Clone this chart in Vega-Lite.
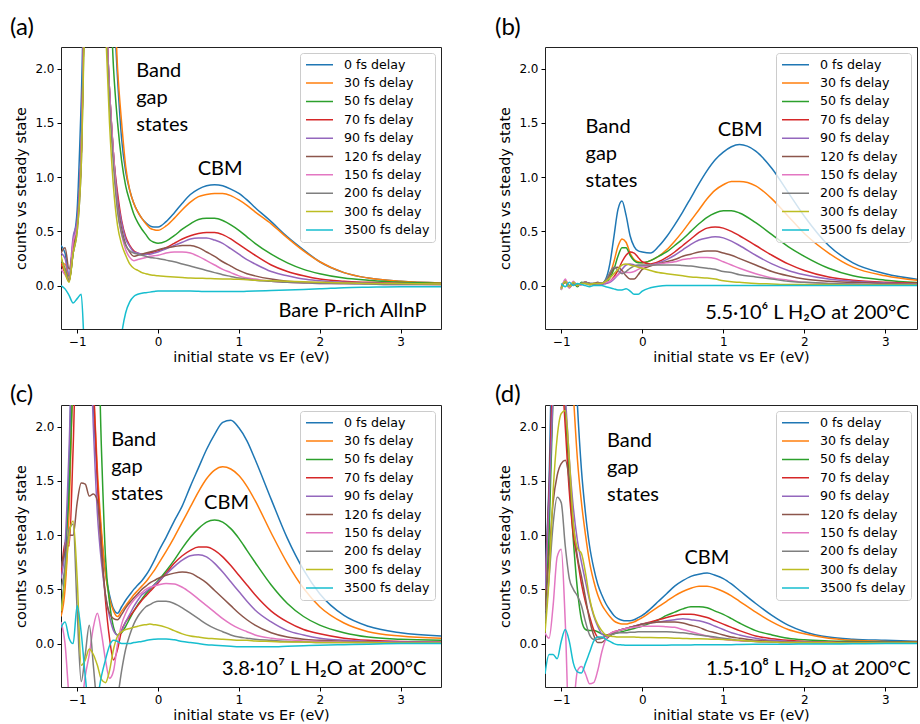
{
"$schema":"https://vega.github.io/schema/vega-lite/v6.json",
"padding":{"left":9,"top":15,"right":0,"bottom":0},
"config":{"font":"DejaVu Sans","view":{"stroke":"#222","strokeWidth":1},
"axis":{"labelFont":"DejaVu Sans","labelFontSize":12,"labelColor":"black","titleFont":"DejaVu Sans","titleFontSize":14.4,"titleFontWeight":"normal","titleColor":"black","tickColor":"black","tickSize":4,"domain":false,"grid":false,"labelPadding":3},
"axisX":{"titlePadding":3},"axisY":{"titlePadding":6},
"legend":{"orient":"top-right","offset":6,"title":null,"fillColor":"rgba(255,255,255,0.8)","strokeColor":"#cccccc","cornerRadius":3,"padding":5,"rowPadding":4.35,"labelFont":"DejaVu Sans","labelFontSize":12.6,"labelColor":"black","symbolType":"stroke","symbolSize":729,"clipHeight":13.5,"symbolStrokeWidth":1.5,"labelOffset":10},
"title":{"font":"Lato","fontSize":24,"fontWeight":"normal","color":"black","anchor":"start","frame":"group","baseline":"alphabetic"},
"text":{"font":"Lato","fontSize":20,"color":"black"}},
"datasets":{
"a":[
{"x":-1.2,"0":0.37,"30":0.2,"50":0.25,"70":0.2,"90":0.3,"120":0.3,"150":0.15,"200":0.25,"300":0.28,"3500":0},
{"x":-1.15,"0":0.3,"30":0.2,"50":0.15,"70":0.12,"90":0.25,"120":0.35,"150":0.1,"200":0.15,"300":0.12,"3500":-0.03},
{"x":-1.1,"0":0.08,"30":0.05,"50":0.04,"70":0.04,"90":0.1,"120":0.15,"150":0.05,"200":0.05,"300":0.03,"3500":-0.09},
{"x":-1.05,"0":0.4,"30":0.3,"50":0.3,"70":0.35,"90":0.45,"120":0.35,"150":0.4,"200":0.3,"300":0.3,"3500":-0.16},
{"x":-1.0,"0":0.7,"30":0.55,"50":0.55,"70":0.55,"90":0.6,"120":0.55,"150":0.55,"200":0.5,"300":0.5,"3500":-0.12},
{"x":-0.95,"0":1.7,"30":1.2,"50":1.2,"70":1.2,"90":1.3,"120":1.2,"150":1.2,"200":1.1,"300":1.1,"3500":-0.08},
{"x":-0.9,"0":3,"30":2.8,"50":2.8,"70":2.8,"90":2.8,"120":2.8,"150":2.8,"200":2.7,"300":2.6,"3500":-0.7},
{"x":-0.85,"0":3,"30":3,"50":3,"70":3,"90":3,"120":3,"150":3,"200":3,"300":3,"3500":-0.8},
{"x":-0.8,"0":3,"30":3,"50":3,"70":3,"90":3,"120":3,"150":3,"200":3,"300":3,"3500":-0.8},
{"x":-0.75,"0":3,"30":3,"50":3,"70":3,"90":3,"120":3,"150":3,"200":3,"300":3,"3500":-0.8},
{"x":-0.7,"0":3,"30":3,"50":3,"70":3,"90":3,"120":3,"150":3,"200":3,"300":3,"3500":-0.8},
{"x":-0.65,"0":3,"30":3,"50":3,"70":2.6,"90":2.6,"120":2.6,"150":2.6,"200":2.5,"300":2.4,"3500":-0.8},
{"x":-0.6,"0":3,"30":3,"50":2.8,"70":1.8,"90":1.8,"120":1.8,"150":1.8,"200":1.7,"300":1.5,"3500":-0.8},
{"x":-0.55,"0":2.6,"30":2.8,"50":2.0,"70":1.2,"90":1.2,"120":1.2,"150":1.2,"200":1.1,"300":0.9,"3500":-0.8},
{"x":-0.5,"0":1.9,"30":2.0,"50":1.5,"70":0.85,"90":0.8,"120":0.75,"150":0.7,"200":0.68,"300":0.55,"3500":-0.8},
{"x":-0.45,"0":1.35,"30":1.5,"50":1.15,"70":0.6,"90":0.58,"120":0.52,"150":0.47,"200":0.48,"300":0.38,"3500":-0.45},
{"x":-0.4,"0":1.05,"30":1.1,"50":0.92,"70":0.45,"90":0.43,"120":0.38,"150":0.33,"200":0.37,"300":0.28,"3500":-0.25},
{"x":-0.35,"0":0.88,"30":0.88,"50":0.78,"70":0.37,"90":0.36,"120":0.31,"150":0.26,"200":0.32,"300":0.2,"3500":-0.15},
{"x":-0.3,"0":0.76,"30":0.76,"50":0.66,"70":0.32,"90":0.31,"120":0.27,"150":0.23,"200":0.3,"300":0.16,"3500":-0.1},
{"x":-0.25,"0":0.68,"30":0.68,"50":0.58,"70":0.3,"90":0.3,"120":0.28,"150":0.24,"200":0.29,"300":0.14,"3500":-0.08},
{"x":-0.2,"0":0.62,"30":0.62,"50":0.52,"70":0.29,"90":0.29,"120":0.29,"150":0.25,"200":0.28,"300":0.12,"3500":-0.07},
{"x":-0.15,"0":0.58,"30":0.57,"50":0.47,"70":0.29,"90":0.29,"120":0.3,"150":0.26,"200":0.27,"300":0.11,"3500":-0.065},
{"x":-0.1,"0":0.55,"30":0.53,"50":0.42,"70":0.3,"90":0.29,"120":0.31,"150":0.27,"200":0.26,"300":0.1,"3500":-0.06},
{"x":-0.05,"0":0.54,"30":0.515,"50":0.4,"70":0.31,"90":0.3,"120":0.32,"150":0.275,"200":0.255,"300":0.095,"3500":-0.055},
{"x":0,"0":0.54,"30":0.51,"50":0.39,"70":0.32,"90":0.31,"120":0.33,"150":0.28,"200":0.25,"300":0.09,"3500":-0.05},
{"x":0.1,"0":0.59,"30":0.55,"50":0.41,"70":0.35,"90":0.34,"120":0.35,"150":0.3,"200":0.235,"300":0.085,"3500":-0.05},
{"x":0.2,"0":0.67,"30":0.62,"50":0.46,"70":0.39,"90":0.37,"120":0.36,"150":0.31,"200":0.22,"300":0.08,"3500":-0.05},
{"x":0.3,"0":0.76,"30":0.7,"50":0.52,"70":0.43,"90":0.4,"120":0.37,"150":0.31,"200":0.2,"300":0.075,"3500":-0.05},
{"x":0.4,"0":0.84,"30":0.77,"50":0.57,"70":0.46,"90":0.43,"120":0.37,"150":0.3,"200":0.18,"300":0.07,"3500":-0.05},
{"x":0.5,"0":0.89,"30":0.82,"50":0.61,"70":0.48,"90":0.44,"120":0.35,"150":0.27,"200":0.16,"300":0.068,"3500":-0.052},
{"x":0.6,"0":0.92,"30":0.84,"50":0.62,"70":0.49,"90":0.44,"120":0.31,"150":0.23,"200":0.14,"300":0.066,"3500":-0.055},
{"x":0.7,"0":0.93,"30":0.85,"50":0.62,"70":0.49,"90":0.42,"120":0.27,"150":0.19,"200":0.12,"300":0.064,"3500":-0.055},
{"x":0.8,"0":0.92,"30":0.85,"50":0.6,"70":0.47,"90":0.39,"120":0.22,"150":0.15,"200":0.1,"300":0.062,"3500":-0.055},
{"x":0.9,"0":0.89,"30":0.83,"50":0.56,"70":0.43,"90":0.34,"120":0.18,"150":0.12,"200":0.085,"300":0.06,"3500":-0.055},
{"x":1.0,"0":0.85,"30":0.79,"50":0.51,"70":0.38,"90":0.29,"120":0.14,"150":0.09,"200":0.07,"300":0.058,"3500":-0.055},
{"x":1.1,"0":0.79,"30":0.74,"50":0.45,"70":0.33,"90":0.24,"120":0.11,"150":0.07,"200":0.06,"300":0.055,"3500":-0.052},
{"x":1.2,"0":0.72,"30":0.68,"50":0.39,"70":0.28,"90":0.2,"120":0.09,"150":0.06,"200":0.05,"300":0.05,"3500":-0.05},
{"x":1.4,"0":0.59,"30":0.57,"50":0.29,"70":0.19,"90":0.13,"120":0.06,"150":0.04,"200":0.04,"300":0.045,"3500":-0.045},
{"x":1.6,"0":0.45,"30":0.44,"50":0.21,"70":0.13,"90":0.09,"120":0.04,"150":0.03,"200":0.03,"300":0.04,"3500":-0.04},
{"x":1.8,"0":0.33,"30":0.32,"50":0.15,"70":0.09,"90":0.06,"120":0.03,"150":0.025,"200":0.025,"300":0.035,"3500":-0.035},
{"x":2.0,"0":0.22,"30":0.22,"50":0.11,"70":0.06,"90":0.045,"120":0.025,"150":0.02,"200":0.02,"300":0.03,"3500":-0.03},
{"x":2.3,"0":0.12,"30":0.12,"50":0.07,"70":0.04,"90":0.03,"120":0.02,"150":0.02,"200":0.02,"300":0.025,"3500":-0.02},
{"x":2.6,"0":0.07,"30":0.07,"50":0.05,"70":0.03,"90":0.025,"120":0.02,"150":0.015,"200":0.015,"300":0.02,"3500":-0.015},
{"x":3.0,"0":0.04,"30":0.04,"50":0.03,"70":0.02,"90":0.02,"120":0.015,"150":0.01,"200":0.01,"300":0.02,"3500":-0.01},
{"x":3.5,"0":0.025,"30":0.025,"50":0.02,"70":0.015,"90":0.015,"120":0.01,"150":0.01,"200":0.01,"300":0.015,"3500":-0.01}
],
"b":[
{"x":-1.0,"0":-0.03,"30":-0.02,"50":-0.04,"70":-0.02,"90":-0.03,"120":-0.01,"150":-0.04,"200":-0.02,"300":-0.03,"3500":0.02},
{"x":-0.95,"0":0.04,"30":0.03,"50":0.05,"70":0.04,"90":0.05,"120":0.03,"150":0.06,"200":0.03,"300":0.04,"3500":-0.01},
{"x":-0.9,"0":-0.01,"30":-0.02,"50":-0.01,"70":0,"90":-0.02,"120":-0.01,"150":-0.02,"200":0,"300":-0.01,"3500":0.03},
{"x":-0.85,"0":0.03,"30":0.02,"50":0.03,"70":0.02,"90":0.03,"120":0.02,"150":0.04,"200":0.02,"300":0.03,"3500":0},
{"x":-0.8,"0":0,"30":0.01,"50":-0.01,"70":0,"90":0.01,"120":0,"150":0,"200":0.01,"300":0,"3500":0.02},
{"x":-0.75,"0":0.02,"30":0.02,"50":0.03,"70":0.01,"90":0.02,"120":0.02,"150":0.01,"200":0.02,"300":0.02,"3500":0.01},
{"x":-0.7,"0":0.03,"30":0.03,"50":0.02,"70":0.03,"90":0.02,"120":0.03,"150":0.03,"200":0.03,"300":0.02,"3500":0},
{"x":-0.65,"0":0.02,"30":0.01,"50":0.01,"70":0.02,"90":0.01,"120":0.02,"150":0.01,"200":0.02,"300":0.01,"3500":-0.01},
{"x":-0.6,"0":0.02,"30":0.02,"50":0.01,"70":0.01,"90":0.02,"120":0.02,"150":0.01,"200":0.01,"300":0.02,"3500":0},
{"x":-0.55,"0":0.02,"30":0.02,"50":0.02,"70":0.02,"90":0.01,"120":0.03,"150":0.02,"200":0.02,"300":0.02,"3500":0},
{"x":-0.5,"0":0.02,"30":0.02,"50":0.02,"70":0.02,"90":0.01,"120":0.02,"150":0.02,"200":0.02,"300":0.02,"3500":0},
{"x":-0.45,"0":0.06,"30":0.04,"50":0.03,"70":0.02,"90":0.02,"120":0.05,"150":0.03,"200":0.05,"300":0.04,"3500":-0.01},
{"x":-0.4,"0":0.2,"30":0.1,"50":0.07,"70":0.04,"90":0.03,"120":0.1,"150":0.04,"200":0.12,"300":0.07,"3500":-0.02},
{"x":-0.35,"0":0.45,"30":0.22,"50":0.15,"70":0.08,"90":0.06,"120":0.16,"150":0.07,"200":0.17,"300":0.11,"3500":-0.03},
{"x":-0.3,"0":0.7,"30":0.36,"50":0.27,"70":0.14,"90":0.1,"120":0.17,"150":0.1,"200":0.14,"300":0.15,"3500":-0.04},
{"x":-0.25,"0":0.78,"30":0.43,"50":0.35,"70":0.22,"90":0.15,"120":0.14,"150":0.12,"200":0.11,"300":0.19,"3500":-0.04},
{"x":-0.2,"0":0.65,"30":0.4,"50":0.35,"70":0.28,"90":0.19,"120":0.09,"150":0.12,"200":0.13,"300":0.2,"3500":-0.03},
{"x":-0.15,"0":0.46,"30":0.3,"50":0.28,"70":0.31,"90":0.2,"120":0.06,"150":0.12,"200":0.16,"300":0.19,"3500":-0.05},
{"x":-0.1,"0":0.36,"30":0.24,"50":0.23,"70":0.3,"90":0.19,"120":0.06,"150":0.13,"200":0.18,"300":0.18,"3500":-0.08},
{"x":-0.05,"0":0.32,"30":0.22,"50":0.21,"70":0.26,"90":0.18,"120":0.1,"150":0.15,"200":0.19,"300":0.17,"3500":-0.08},
{"x":0,"0":0.31,"30":0.21,"50":0.21,"70":0.22,"90":0.18,"120":0.15,"150":0.17,"200":0.19,"300":0.16,"3500":-0.05},
{"x":0.1,"0":0.3,"30":0.23,"50":0.23,"70":0.2,"90":0.19,"120":0.18,"150":0.19,"200":0.19,"300":0.14,"3500":-0.02},
{"x":0.2,"0":0.36,"30":0.27,"50":0.27,"70":0.22,"90":0.21,"120":0.2,"150":0.2,"200":0.19,"300":0.12,"3500":-0.005},
{"x":0.3,"0":0.45,"30":0.33,"50":0.31,"70":0.26,"90":0.24,"120":0.22,"150":0.21,"200":0.19,"300":0.11,"3500":0},
{"x":0.4,"0":0.56,"30":0.41,"50":0.37,"70":0.31,"90":0.28,"120":0.24,"150":0.22,"200":0.19,"300":0.1,"3500":0},
{"x":0.5,"0":0.68,"30":0.5,"50":0.43,"70":0.37,"90":0.33,"120":0.27,"150":0.24,"200":0.185,"300":0.09,"3500":0},
{"x":0.6,"0":0.81,"30":0.6,"50":0.5,"70":0.43,"90":0.38,"120":0.29,"150":0.25,"200":0.18,"300":0.08,"3500":0},
{"x":0.7,"0":0.94,"30":0.7,"50":0.57,"70":0.49,"90":0.42,"120":0.31,"150":0.26,"200":0.17,"300":0.075,"3500":0},
{"x":0.8,"0":1.06,"30":0.8,"50":0.63,"70":0.53,"90":0.44,"120":0.32,"150":0.26,"200":0.16,"300":0.07,"3500":0},
{"x":0.9,"0":1.16,"30":0.88,"50":0.67,"70":0.54,"90":0.45,"120":0.32,"150":0.25,"200":0.15,"300":0.06,"3500":0},
{"x":1.0,"0":1.23,"30":0.93,"50":0.69,"70":0.53,"90":0.44,"120":0.3,"150":0.22,"200":0.13,"300":0.045,"3500":0},
{"x":1.1,"0":1.28,"30":0.96,"50":0.69,"70":0.5,"90":0.41,"120":0.28,"150":0.19,"200":0.12,"300":0.035,"3500":0},
{"x":1.2,"0":1.3,"30":0.96,"50":0.67,"70":0.46,"90":0.37,"120":0.25,"150":0.16,"200":0.1,"300":0.03,"3500":0},
{"x":1.4,"0":1.24,"30":0.92,"50":0.58,"70":0.37,"90":0.28,"120":0.19,"150":0.11,"200":0.08,"300":0.02,"3500":0},
{"x":1.6,"0":1.08,"30":0.8,"50":0.47,"70":0.28,"90":0.2,"120":0.13,"150":0.07,"200":0.06,"300":0.015,"3500":0},
{"x":1.8,"0":0.86,"30":0.64,"50":0.36,"70":0.2,"90":0.14,"120":0.09,"150":0.05,"200":0.04,"300":0.01,"3500":0},
{"x":2.0,"0":0.64,"30":0.48,"50":0.27,"70":0.14,"90":0.1,"120":0.06,"150":0.03,"200":0.03,"300":0.01,"3500":0},
{"x":2.3,"0":0.37,"30":0.3,"50":0.16,"70":0.08,"90":0.06,"120":0.04,"150":0.02,"200":0.02,"300":0.01,"3500":0},
{"x":2.6,"0":0.21,"30":0.17,"50":0.09,"70":0.05,"90":0.04,"120":0.03,"150":0.015,"200":0.015,"300":0.005,"3500":0},
{"x":3.0,"0":0.11,"30":0.09,"50":0.05,"70":0.03,"90":0.025,"120":0.02,"150":0.01,"200":0.01,"300":0.005,"3500":0},
{"x":3.5,"0":0.05,"30":0.04,"50":0.025,"70":0.02,"90":0.015,"120":0.01,"150":0.01,"200":0.01,"300":0.005,"3500":0}
],
"c":[
{"x":-1.2,"0":0.3,"30":0.25,"50":0.7,"70":0.6,"90":0.6,"120":0.7,"150":0.2,"200":0.5,"300":0.3,"3500":0.15},
{"x":-1.15,"0":0.7,"30":0.5,"50":0.9,"70":0.93,"90":0.9,"120":0.85,"150":0.0,"200":0.7,"300":0.6,"3500":0.2},
{"x":-1.1,"0":1.6,"30":1.2,"50":1.4,"70":0.9,"90":1.8,"120":1.0,"150":-0.5,"200":1.05,"300":1.0,"3500":0.05},
{"x":-1.05,"0":3,"30":2.5,"50":2.5,"70":1.8,"90":3,"120":1.0,"150":-0.8,"200":1.1,"300":1.13,"3500":0.0},
{"x":-1.0,"0":3,"30":3,"50":3,"70":3,"90":3,"120":1.3,"150":-0.8,"200":0.3,"300":0.6,"3500":0.35},
{"x":-0.95,"0":3,"30":3,"50":3,"70":3,"90":3,"120":1.48,"150":-0.6,"200":-0.35,"300":-0.2,"3500":0.1},
{"x":-0.9,"0":3,"30":3,"50":3,"70":3,"90":3,"120":1.47,"150":-0.3,"200":-0.1,"300":-0.15,"3500":-0.3},
{"x":-0.85,"0":3,"30":3,"50":3,"70":3,"90":3,"120":1.36,"150":-0.1,"200":0.17,"300":-0.05,"3500":-0.6},
{"x":-0.8,"0":2.2,"30":2.4,"50":3,"70":2.4,"90":2.0,"120":1.38,"150":0.15,"200":-0.2,"300":-0.1,"3500":-0.6},
{"x":-0.75,"0":1.5,"30":1.6,"50":3,"70":1.5,"90":1.2,"120":1.32,"150":0.28,"200":-0.6,"300":-0.2,"3500":-0.5},
{"x":-0.7,"0":1.0,"30":1.05,"50":1.8,"70":0.9,"90":0.75,"120":0.85,"150":0.1,"200":-0.8,"300":-0.33,"3500":-0.3},
{"x":-0.65,"0":0.65,"30":0.65,"50":0.8,"70":0.4,"90":0.45,"120":0.45,"150":-0.15,"200":-0.8,"300":-0.36,"3500":-0.15},
{"x":-0.6,"0":0.45,"30":0.42,"50":0.38,"70":0.05,"90":0.25,"120":0.28,"150":-0.32,"200":-0.8,"300":-0.25,"3500":-0.02},
{"x":-0.55,"0":0.32,"30":0.3,"50":0.15,"70":-0.15,"90":0.12,"120":0.23,"150":-0.25,"200":-0.7,"300":-0.05,"3500":0.03},
{"x":-0.5,"0":0.28,"30":0.25,"50":0.08,"70":-0.05,"90":0.08,"120":0.22,"150":0.0,"200":-0.5,"300":0.07,"3500":0.02},
{"x":-0.45,"0":0.34,"30":0.3,"50":0.1,"70":0.12,"90":0.12,"120":0.27,"150":0.18,"200":-0.25,"300":0.11,"3500":0.0},
{"x":-0.4,"0":0.4,"30":0.35,"50":0.16,"70":0.2,"90":0.2,"120":0.33,"150":0.28,"200":-0.05,"300":0.13,"3500":0.0},
{"x":-0.35,"0":0.45,"30":0.4,"50":0.23,"70":0.25,"90":0.27,"120":0.38,"150":0.35,"200":0.08,"300":0.14,"3500":0.0},
{"x":-0.3,"0":0.5,"30":0.45,"50":0.3,"70":0.3,"90":0.34,"120":0.42,"150":0.4,"200":0.18,"300":0.15,"3500":0.01},
{"x":-0.25,"0":0.54,"30":0.49,"50":0.36,"70":0.35,"90":0.4,"120":0.46,"150":0.44,"200":0.25,"300":0.16,"3500":0.015},
{"x":-0.2,"0":0.58,"30":0.53,"50":0.41,"70":0.4,"90":0.45,"120":0.5,"150":0.47,"200":0.3,"300":0.17,"3500":0.02},
{"x":-0.15,"0":0.63,"30":0.57,"50":0.46,"70":0.44,"90":0.48,"120":0.53,"150":0.5,"200":0.34,"300":0.175,"3500":0.028},
{"x":-0.1,"0":0.69,"30":0.62,"50":0.5,"70":0.48,"90":0.51,"120":0.56,"150":0.52,"200":0.36,"300":0.18,"3500":0.035},
{"x":-0.05,"0":0.76,"30":0.67,"50":0.54,"70":0.52,"90":0.54,"120":0.58,"150":0.53,"200":0.38,"300":0.175,"3500":0.04},
{"x":0,"0":0.84,"30":0.73,"50":0.58,"70":0.56,"90":0.57,"120":0.6,"150":0.54,"200":0.39,"300":0.17,"3500":0.043},
{"x":0.1,"0":0.98,"30":0.85,"50":0.67,"70":0.65,"90":0.64,"120":0.63,"150":0.555,"200":0.39,"300":0.15,"3500":0.043},
{"x":0.2,"0":1.13,"30":0.98,"50":0.77,"70":0.74,"90":0.71,"120":0.65,"150":0.55,"200":0.37,"300":0.12,"3500":0.035},
{"x":0.3,"0":1.27,"30":1.12,"50":0.88,"70":0.81,"90":0.77,"120":0.66,"150":0.52,"200":0.33,"300":0.09,"3500":0.02},
{"x":0.4,"0":1.45,"30":1.26,"50":0.98,"70":0.86,"90":0.81,"120":0.65,"150":0.47,"200":0.28,"300":0.07,"3500":0.01},
{"x":0.5,"0":1.62,"30":1.4,"50":1.06,"70":0.89,"90":0.82,"120":0.61,"150":0.41,"200":0.23,"300":0.06,"3500":0.0},
{"x":0.6,"0":1.79,"30":1.52,"50":1.12,"70":0.89,"90":0.8,"120":0.56,"150":0.35,"200":0.18,"300":0.05,"3500":-0.01},
{"x":0.7,"0":1.93,"30":1.6,"50":1.14,"70":0.86,"90":0.74,"120":0.49,"150":0.29,"200":0.14,"300":0.045,"3500":-0.015},
{"x":0.8,"0":2.04,"30":1.63,"50":1.12,"70":0.8,"90":0.66,"120":0.42,"150":0.23,"200":0.11,"300":0.04,"3500":-0.02},
{"x":0.9,"0":2.06,"30":1.61,"50":1.06,"70":0.72,"90":0.57,"120":0.35,"150":0.18,"200":0.08,"300":0.035,"3500":-0.025},
{"x":1.0,"0":1.99,"30":1.55,"50":0.97,"70":0.63,"90":0.48,"120":0.28,"150":0.14,"200":0.06,"300":0.03,"3500":-0.03},
{"x":1.1,"0":1.87,"30":1.45,"50":0.86,"70":0.54,"90":0.39,"120":0.22,"150":0.11,"200":0.05,"300":0.03,"3500":-0.03},
{"x":1.2,"0":1.7,"30":1.32,"50":0.75,"70":0.45,"90":0.31,"120":0.17,"150":0.08,"200":0.04,"300":0.025,"3500":-0.03},
{"x":1.4,"0":1.33,"30":1.02,"50":0.54,"70":0.3,"90":0.2,"120":0.1,"150":0.05,"200":0.03,"300":0.02,"3500":-0.03},
{"x":1.6,"0":0.97,"30":0.74,"50":0.37,"70":0.2,"90":0.12,"120":0.06,"150":0.035,"200":0.02,"300":0.015,"3500":-0.025},
{"x":1.8,"0":0.68,"30":0.51,"50":0.25,"70":0.13,"90":0.08,"120":0.04,"150":0.025,"200":0.015,"300":0.015,"3500":-0.02},
{"x":2.0,"0":0.46,"30":0.34,"50":0.17,"70":0.09,"90":0.05,"120":0.03,"150":0.02,"200":0.01,"300":0.01,"3500":-0.015},
{"x":2.3,"0":0.26,"30":0.19,"50":0.1,"70":0.05,"90":0.03,"120":0.02,"150":0.015,"200":0.01,"300":0.01,"3500":-0.01},
{"x":2.6,"0":0.16,"30":0.11,"50":0.06,"70":0.03,"90":0.02,"120":0.015,"150":0.01,"200":0.01,"300":0.01,"3500":-0.005},
{"x":3.0,"0":0.1,"30":0.07,"50":0.04,"70":0.02,"90":0.015,"120":0.01,"150":0.01,"200":0.005,"300":0.005,"3500":0.0},
{"x":3.5,"0":0.07,"30":0.05,"50":0.03,"70":0.015,"90":0.01,"120":0.01,"150":0.01,"200":0.005,"300":0.005,"3500":0.0}
],
"d":[
{"x":-1.2,"0":0.6,"30":0.4,"50":0.3,"70":0.5,"90":0.5,"120":0.3,"150":0.1,"200":0.2,"300":0.1,"3500":-0.28},
{"x":-1.15,"0":1.5,"30":1.2,"50":1.0,"70":1.4,"90":1.3,"120":0.8,"150":0.05,"200":0.6,"300":0.6,"3500":-0.1},
{"x":-1.1,"0":3,"30":2.4,"50":2.3,"70":2.6,"90":2.3,"120":1.3,"150":0.35,"200":1.1,"300":1.4,"3500":-0.1},
{"x":-1.05,"0":3,"30":3,"50":3,"70":3,"90":2.8,"120":1.55,"150":0.8,"200":1.35,"300":1.9,"3500":-0.14},
{"x":-1.0,"0":3,"30":3,"50":3,"70":2.6,"90":3,"120":1.66,"150":0.87,"200":1.3,"300":2.12,"3500":0.02},
{"x":-0.95,"0":3,"30":3,"50":2.2,"70":2.0,"90":2.3,"120":1.69,"150":0.2,"200":0.9,"300":2.15,"3500":0.13},
{"x":-0.9,"0":3,"30":3,"50":1.5,"70":1.4,"90":1.7,"120":1.5,"150":-0.8,"200":0.6,"300":1.7,"3500":0.02},
{"x":-0.85,"0":3,"30":2.3,"50":0.95,"70":1.0,"90":1.25,"120":1.1,"150":-0.6,"200":0.5,"300":1.1,"3500":-0.18},
{"x":-0.8,"0":2.2,"30":1.7,"50":0.5,"70":0.78,"90":0.95,"120":0.8,"150":-0.25,"200":0.44,"300":0.88,"3500":-0.26},
{"x":-0.75,"0":1.6,"30":1.3,"50":0.22,"70":0.55,"90":0.75,"120":0.62,"150":-0.21,"200":0.35,"300":0.83,"3500":-0.27},
{"x":-0.7,"0":1.2,"30":1.0,"50":0.13,"70":0.38,"90":0.57,"120":0.42,"150":-0.28,"200":0.2,"300":0.65,"3500":-0.18},
{"x":-0.65,"0":0.9,"30":0.75,"50":0.12,"70":0.25,"90":0.4,"120":0.22,"150":-0.37,"200":0.08,"300":0.42,"3500":-0.08},
{"x":-0.6,"0":0.7,"30":0.58,"50":0.12,"70":0.13,"90":0.26,"120":0.08,"150":-0.36,"200":0.04,"300":0.27,"3500":0.02},
{"x":-0.55,"0":0.55,"30":0.45,"50":0.11,"70":0.06,"90":0.16,"120":0.01,"150":-0.25,"200":0.04,"300":0.18,"3500":0.06},
{"x":-0.5,"0":0.45,"30":0.36,"50":0.09,"70":0.05,"90":0.09,"120":0.01,"150":-0.08,"200":0.05,"300":0.12,"3500":0.06},
{"x":-0.45,"0":0.37,"30":0.3,"50":0.08,"70":0.07,"90":0.07,"120":0.04,"150":0.04,"200":0.07,"300":0.08,"3500":0.04},
{"x":-0.4,"0":0.31,"30":0.25,"50":0.08,"70":0.09,"90":0.08,"120":0.07,"150":0.09,"200":0.08,"300":0.07,"3500":0.02},
{"x":-0.35,"0":0.26,"30":0.21,"50":0.09,"70":0.11,"90":0.1,"120":0.1,"150":0.11,"200":0.09,"300":0.065,"3500":0.0},
{"x":-0.3,"0":0.23,"30":0.19,"50":0.1,"70":0.12,"90":0.12,"120":0.12,"150":0.12,"200":0.1,"300":0.06,"3500":-0.01},
{"x":-0.25,"0":0.215,"30":0.18,"50":0.11,"70":0.13,"90":0.13,"120":0.13,"150":0.13,"200":0.1,"300":0.06,"3500":-0.012},
{"x":-0.2,"0":0.21,"30":0.18,"50":0.12,"70":0.14,"90":0.14,"120":0.14,"150":0.14,"200":0.1,"300":0.06,"3500":-0.015},
{"x":-0.15,"0":0.21,"30":0.19,"50":0.13,"70":0.15,"90":0.15,"120":0.15,"150":0.145,"200":0.105,"300":0.06,"3500":-0.015},
{"x":-0.1,"0":0.22,"30":0.2,"50":0.14,"70":0.16,"90":0.16,"120":0.16,"150":0.15,"200":0.105,"300":0.06,"3500":-0.015},
{"x":-0.05,"0":0.24,"30":0.22,"50":0.15,"70":0.17,"90":0.17,"120":0.17,"150":0.155,"200":0.11,"300":0.058,"3500":-0.015},
{"x":0,"0":0.26,"30":0.24,"50":0.16,"70":0.18,"90":0.18,"120":0.18,"150":0.16,"200":0.11,"300":0.057,"3500":-0.015},
{"x":0.1,"0":0.32,"30":0.29,"50":0.19,"70":0.2,"90":0.19,"120":0.19,"150":0.16,"200":0.11,"300":0.056,"3500":-0.015},
{"x":0.2,"0":0.39,"30":0.34,"50":0.22,"70":0.22,"90":0.2,"120":0.2,"150":0.16,"200":0.11,"300":0.055,"3500":-0.015},
{"x":0.3,"0":0.46,"30":0.39,"50":0.26,"70":0.24,"90":0.21,"120":0.2,"150":0.155,"200":0.11,"300":0.053,"3500":-0.015},
{"x":0.4,"0":0.53,"30":0.44,"50":0.29,"70":0.26,"90":0.22,"120":0.2,"150":0.15,"200":0.105,"300":0.05,"3500":-0.013},
{"x":0.5,"0":0.58,"30":0.48,"50":0.32,"70":0.27,"90":0.23,"120":0.19,"150":0.13,"200":0.1,"300":0.048,"3500":-0.012},
{"x":0.6,"0":0.62,"30":0.51,"50":0.34,"70":0.27,"90":0.22,"120":0.17,"150":0.11,"200":0.09,"300":0.046,"3500":-0.012},
{"x":0.7,"0":0.64,"30":0.53,"50":0.34,"70":0.26,"90":0.21,"120":0.15,"150":0.09,"200":0.08,"300":0.044,"3500":-0.01},
{"x":0.8,"0":0.65,"30":0.53,"50":0.33,"70":0.24,"90":0.19,"120":0.12,"150":0.07,"200":0.07,"300":0.042,"3500":-0.01},
{"x":0.9,"0":0.63,"30":0.51,"50":0.3,"70":0.21,"90":0.16,"120":0.1,"150":0.05,"200":0.06,"300":0.04,"3500":-0.01},
{"x":1.0,"0":0.6,"30":0.48,"50":0.27,"70":0.18,"90":0.13,"120":0.08,"150":0.04,"200":0.05,"300":0.038,"3500":-0.01},
{"x":1.1,"0":0.55,"30":0.44,"50":0.23,"70":0.15,"90":0.1,"120":0.06,"150":0.03,"200":0.04,"300":0.035,"3500":-0.01},
{"x":1.2,"0":0.49,"30":0.39,"50":0.19,"70":0.12,"90":0.08,"120":0.05,"150":0.025,"200":0.03,"300":0.03,"3500":-0.008},
{"x":1.4,"0":0.37,"30":0.29,"50":0.12,"70":0.07,"90":0.05,"120":0.03,"150":0.02,"200":0.02,"300":0.02,"3500":-0.006},
{"x":1.6,"0":0.26,"30":0.2,"50":0.08,"70":0.045,"90":0.03,"120":0.02,"150":0.015,"200":0.015,"300":0.015,"3500":-0.005},
{"x":1.8,"0":0.17,"30":0.13,"50":0.05,"70":0.03,"90":0.02,"120":0.015,"150":0.01,"200":0.01,"300":0.01,"3500":-0.005},
{"x":2.0,"0":0.11,"30":0.09,"50":0.035,"70":0.02,"90":0.015,"120":0.01,"150":0.01,"200":0.01,"300":0.01,"3500":-0.004},
{"x":2.3,"0":0.06,"30":0.05,"50":0.025,"70":0.015,"90":0.01,"120":0.01,"150":0.01,"200":0.01,"300":0.01,"3500":-0.003},
{"x":2.6,"0":0.04,"30":0.03,"50":0.02,"70":0.01,"90":0.01,"120":0.01,"150":0.005,"200":0.005,"300":0.005,"3500":-0.002},
{"x":3.0,"0":0.03,"30":0.02,"50":0.015,"70":0.01,"90":0.01,"120":0.005,"150":0.005,"200":0.005,"300":0.005,"3500":0},
{"x":3.5,"0":0.02,"30":0.015,"50":0.01,"70":0.01,"90":0.005,"120":0.005,"150":0.005,"200":0.005,"300":0.005,"3500":0}
]},
"spacing":18,
"resolve":{"scale":{"color":"independent"},"legend":{"color":"independent"}},
"vconcat":[
{"hconcat":[
{"width":380,"height":282,
"title":{"text":"(a)","dx":-51,"offset":7},
"layer":[
{"data":{"name":"a"},"transform":[{"fold":["0","30","50","70","90","120","150","200","300","3500"],"as":["delay","y"]}],
"mark":{"type":"line","clip":true,"strokeWidth":1.5,"interpolate":"monotone"},
"encoding":{
"x":{"field":"x","type":"quantitative","scale":{"domain":[-1.2,3.5],"nice":false,"zero":false},"axis":{"values":[-1,0,1,2,3],"format":"d","title":"initial state vs Eꜰ (eV)"}},
"y":{"field":"y","type":"quantitative","scale":{"domain":[-0.4,2.2],"nice":false,"zero":false},"axis":{"values":[0,0.5,1,1.5,2],"format":".1f","title":"counts vs steady state"}},
"color":{"field":"delay","type":"nominal","scale":{"domain":["0","30","50","70","90","120","150","200","300","3500"],"range":["#1f77b4","#ff7f0e","#2ca02c","#d62728","#9467bd","#8c564b","#e377c2","#7f7f7f","#bcbd22","#17becf"]},"legend":{"labelExpr":"datum.label + ' fs delay'"}}}},
{"data":{"values":[{}]},"mark":{"type":"text","align":"left","baseline":"alphabetic","lineHeight":27},"encoding":{"x":{"datum":-0.27},"y":{"datum":1.92},"text":{"value":["Band","gap","states"]}}},
{"data":{"values":[{}]},"mark":{"type":"text","align":"left","baseline":"alphabetic"},"encoding":{"x":{"datum":0.49},"y":{"datum":1.02},"text":{"value":"CBM"}}},
{"data":{"values":[{}]},"mark":{"type":"text","align":"right","baseline":"alphabetic"},"encoding":{"x":{"datum":3.32},"y":{"datum":-0.29},"text":{"value":"Bare P-rich AlInP"}}}
]},
{"width":372,"height":282,
"title":{"text":"(b)","dx":-50,"offset":7},
"layer":[
{"data":{"name":"b"},"transform":[{"fold":["0","30","50","70","90","120","150","200","300","3500"],"as":["delay","y"]}],
"mark":{"type":"line","clip":true,"strokeWidth":1.5,"interpolate":"monotone"},
"encoding":{
"x":{"field":"x","type":"quantitative","scale":{"domain":[-1.2,3.39],"nice":false,"zero":false},"axis":{"values":[-1,0,1,2,3],"format":"d","title":"initial state vs Eꜰ (eV)"}},
"y":{"field":"y","type":"quantitative","scale":{"domain":[-0.4,2.2],"nice":false,"zero":false},"axis":{"values":[0,0.5,1,1.5,2],"format":".1f","title":"counts vs steady state"}},
"color":{"field":"delay","type":"nominal","scale":{"domain":["0","30","50","70","90","120","150","200","300","3500"],"range":["#1f77b4","#ff7f0e","#2ca02c","#d62728","#9467bd","#8c564b","#e377c2","#7f7f7f","#bcbd22","#17becf"]},"legend":{"labelExpr":"datum.label + ' fs delay'"}}}},
{"data":{"values":[{}]},"mark":{"type":"text","align":"left","baseline":"alphabetic","lineHeight":27},"encoding":{"x":{"datum":-0.7},"y":{"datum":1.41},"text":{"value":["Band","gap","states"]}}},
{"data":{"values":[{}]},"mark":{"type":"text","align":"left","baseline":"alphabetic"},"encoding":{"x":{"datum":0.93},"y":{"datum":1.38},"text":{"value":"CBM"}}},
{"data":{"values":[{}]},"mark":{"type":"text","align":"right","baseline":"alphabetic"},"encoding":{"x":{"datum":3.3},"y":{"datum":-0.31},"text":{"value":"5.5·10⁶ L H₂O at 200°C"}}}
]}
],"spacing":52,"resolve":{"scale":{"color":"independent"},"legend":{"color":"independent"}}},
{"hconcat":[
{"width":380,"height":282,
"title":{"text":"(c)","dx":-51,"offset":-2},
"layer":[
{"data":{"name":"c"},"transform":[{"fold":["0","30","50","70","90","120","150","200","300","3500"],"as":["delay","y"]}],
"mark":{"type":"line","clip":true,"strokeWidth":1.5,"interpolate":"monotone"},
"encoding":{
"x":{"field":"x","type":"quantitative","scale":{"domain":[-1.2,3.5],"nice":false,"zero":false},"axis":{"values":[-1,0,1,2,3],"format":"d","title":"initial state vs Eꜰ (eV)"}},
"y":{"field":"y","type":"quantitative","scale":{"domain":[-0.4,2.2],"nice":false,"zero":false},"axis":{"values":[0,0.5,1,1.5,2],"format":".1f","title":"counts vs steady state"}},
"color":{"field":"delay","type":"nominal","scale":{"domain":["0","30","50","70","90","120","150","200","300","3500"],"range":["#1f77b4","#ff7f0e","#2ca02c","#d62728","#9467bd","#8c564b","#e377c2","#7f7f7f","#bcbd22","#17becf"]},"legend":{"labelExpr":"datum.label + ' fs delay'"}}}},
{"data":{"values":[{}]},"mark":{"type":"text","align":"left","baseline":"alphabetic","lineHeight":27},"encoding":{"x":{"datum":-0.58},"y":{"datum":1.82},"text":{"value":["Band","gap","states"]}}},
{"data":{"values":[{}]},"mark":{"type":"text","align":"left","baseline":"alphabetic"},"encoding":{"x":{"datum":0.57},"y":{"datum":1.24},"text":{"value":"CBM"}}},
{"data":{"values":[{}]},"mark":{"type":"text","align":"right","baseline":"alphabetic"},"encoding":{"x":{"datum":3.32},"y":{"datum":-0.285},"text":{"value":"3.8·10⁷ L H₂O at 200°C"}}}
]},
{"width":372,"height":282,
"title":{"text":"(d)","dx":-50,"offset":-2},
"layer":[
{"data":{"name":"d"},"transform":[{"fold":["0","30","50","70","90","120","150","200","300","3500"],"as":["delay","y"]}],
"mark":{"type":"line","clip":true,"strokeWidth":1.5,"interpolate":"monotone"},
"encoding":{
"x":{"field":"x","type":"quantitative","scale":{"domain":[-1.2,3.39],"nice":false,"zero":false},"axis":{"values":[-1,0,1,2,3],"format":"d","title":"initial state vs Eꜰ (eV)"}},
"y":{"field":"y","type":"quantitative","scale":{"domain":[-0.4,2.2],"nice":false,"zero":false},"axis":{"values":[0,0.5,1,1.5,2],"format":".1f","title":"counts vs steady state"}},
"color":{"field":"delay","type":"nominal","scale":{"domain":["0","30","50","70","90","120","150","200","300","3500"],"range":["#1f77b4","#ff7f0e","#2ca02c","#d62728","#9467bd","#8c564b","#e377c2","#7f7f7f","#bcbd22","#17becf"]},"legend":{"labelExpr":"datum.label + ' fs delay'"}}}},
{"data":{"values":[{}]},"mark":{"type":"text","align":"left","baseline":"alphabetic","lineHeight":27},"encoding":{"x":{"datum":-0.435},"y":{"datum":1.81},"text":{"value":["Band","gap","states"]}}},
{"data":{"values":[{}]},"mark":{"type":"text","align":"left","baseline":"alphabetic"},"encoding":{"x":{"datum":0.52},"y":{"datum":0.73},"text":{"value":"CBM"}}},
{"data":{"values":[{}]},"mark":{"type":"text","align":"right","baseline":"alphabetic"},"encoding":{"x":{"datum":3.31},"y":{"datum":-0.285},"text":{"value":"1.5·10⁸ L H₂O at 200°C"}}}
]}
],"spacing":52,"resolve":{"scale":{"color":"independent"},"legend":{"color":"independent"}}}
]}
